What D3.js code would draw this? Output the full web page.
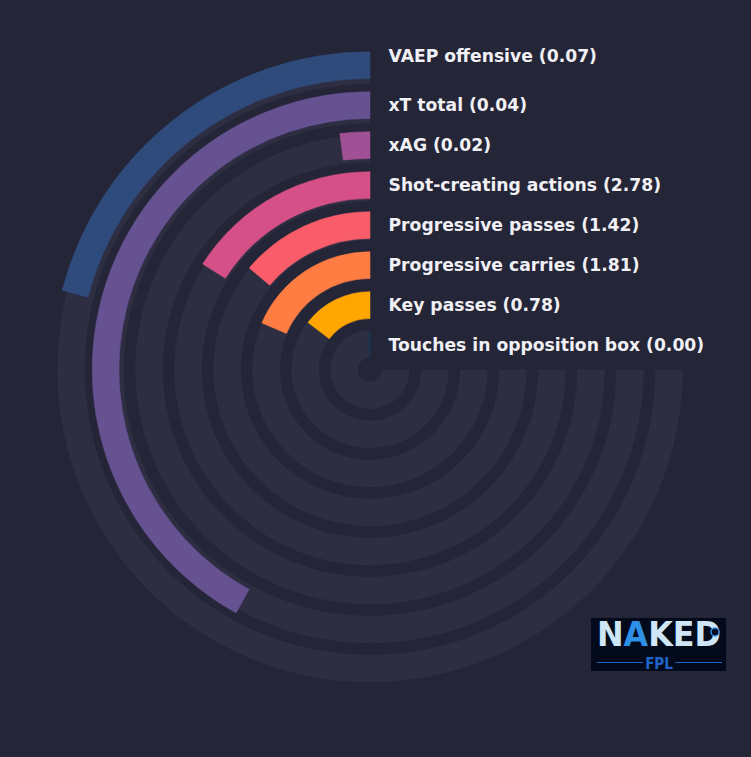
<!DOCTYPE html>
<html>
<head>
    <meta charset="utf-8">
    <title>Radial bars</title>
    <script src="https://d3js.org/d3.v7.min.js"></script>
    <style>
        body { margin: 0; background: #252538; }
    </style>
</head>
<body>
<div id="chart"></div>

<script type="text/javascript">
    // metrics, from outer ring to inner ring
    const metrics = ["VAEP offensive", "xT total", "xAG", "Shot-creating actions",
                     "Progressive passes", "Progressive carries", "Key passes",
                     "Touches in opposition box"];
    const values = [0.07, 0.04, 0.02, 2.78, 1.42, 1.81, 0.78, 0.00];
    // how far round each bar goes (0-100 of the 270 degree track)
    const percentiles = [28, 56, 2.7, 21.4, 18.5, 24.7, 19.6, 0];
    const colors = ["#2f4b7c", "#665191", "#a05195", "#d45087",
                    "#f95d6a", "#ff7c43", "#ffa600", "#003f5c"];

    let w = 751, h = 757;
    let cx = 370, cy = 369.5;

    let svg = d3.select("#chart")
            .append("svg")
                .attr("width", w)
                .attr("height", h);

    svg.append("rect")
        .attr("width", w)
        .attr("height", h)
        .attr("fill", "#252538");

    let g = svg.append("g")
        .attr("transform", "translate(" + cx + "," + cy + ")");

    let idx = d3.range(metrics.length);

    // angle: 0 at twelve o'clock, running anticlockwise over three quarters
    let angle = d3.scaleLinear()
        .domain([0, 100])
        .range([0, -1.5 * Math.PI]);

    // ring radii (outer edge) by ring index
    let rBar = d3.scaleLinear().domain([0, 7]).range([317.8, 37.8]);
    let rTrack = d3.scaleLinear().domain([0, 7]).range([312.8, 39.6]);
    let barWidth = 26.8, trackWidth = 27.5;

    let trackArc = d3.arc()
        .innerRadius(i => rTrack(i) - trackWidth)
        .outerRadius(i => rTrack(i))
        .startAngle(angle(0))
        .endAngle(angle(100));

    let barArc = d3.arc()
        .innerRadius(i => rBar(i) - barWidth)
        .outerRadius(i => rBar(i))
        .startAngle(angle(0))
        .endAngle(i => angle(percentiles[i]));

    g.selectAll("path.track")
        .data(idx)
        .enter()
        .append("path")
            .attr("class", "track")
            .attr("d", trackArc)
            .attr("fill", "#2e2e43");

    g.selectAll("path.bar")
        .data(idx)
        .enter()
        .append("path")
            .attr("class", "bar")
            .attr("d", barArc)
            .attr("fill", i => colors[i])
            .attr("stroke", i => colors[i])
            .attr("stroke-width", 0.5);

    // labels sit right of the bar start, on the ring centre (top one a bit higher)
    g.selectAll("text.label")
        .data(idx)
        .enter()
        .append("text")
            .attr("class", "label")
            .attr("x", 18.5)
            .attr("y", i => -(rBar(i) - barWidth / 2))
            .attr("dy", i => i == 0 ? "-3.3px" : "5.8px")
            .attr("font-family", "DejaVu Sans")
            .attr("font-weight", "bold")
            .attr("font-size", "17.2px")
            .attr("fill", "#f0f0f5")
            .text(i => metrics[i] + " (" + values[i].toFixed(2) + ")");

    // logo, bottom right
    let logo = svg.append("g").attr("transform", "translate(591,618)");
    logo.append("rect")
        .attr("width", 135)
        .attr("height", 53)
        .attr("fill", "#020a1c");
    let word = logo.append("text")
        .attr("x", 6)
        .attr("y", 28)
        .attr("textLength", 124)
        .attr("lengthAdjust", "spacingAndGlyphs")
        .attr("font-family", "DejaVu Sans")
        .attr("font-weight", "bold")
        .attr("font-size", "33px")
        .attr("fill", "#cfe6f6");
    word.append("tspan").text("N");
    word.append("tspan").attr("fill", "#2d8fe6").text("A");
    word.append("tspan").text("KED");
    logo.append("circle")
        .attr("cx", 124)
        .attr("cy", 14)
        .attr("r", 4)
        .attr("fill", "#020a1c")
        .attr("stroke", "#2d8fe6")
        .attr("stroke-width", 1.5);
    logo.append("line")
        .attr("x1", 6).attr("x2", 52)
        .attr("y1", 44.5).attr("y2", 44.5)
        .attr("stroke", "#1f64c8").attr("stroke-width", 1);
    logo.append("line")
        .attr("x1", 84).attr("x2", 131)
        .attr("y1", 44.5).attr("y2", 44.5)
        .attr("stroke", "#1f64c8").attr("stroke-width", 1);
    logo.append("text")
        .attr("x", 68)
        .attr("y", 50.5)
        .attr("text-anchor", "middle")
        .attr("font-family", "DejaVu Sans Condensed, DejaVu Sans")
        .attr("font-weight", "bold")
        .attr("font-size", "15px")
        .attr("fill", "#1f64c8")
        .text("FPL");
</script>
</body>
</html>
